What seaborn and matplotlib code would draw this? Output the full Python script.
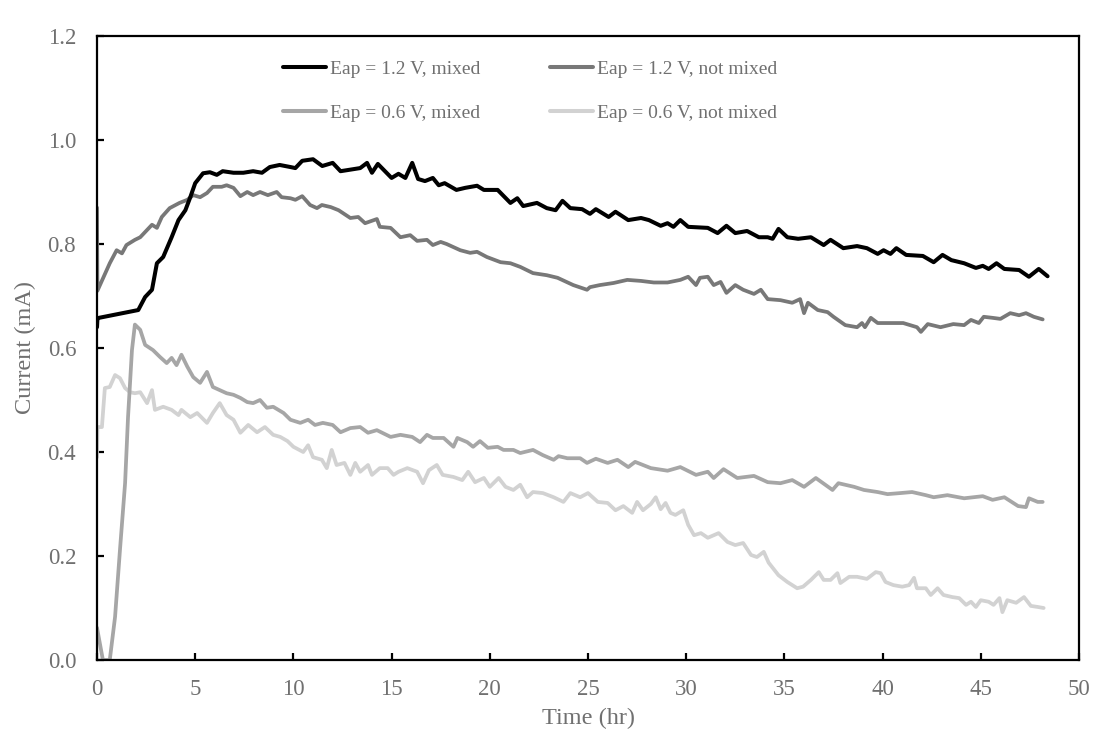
import numpy as np
import pandas as pd
import matplotlib
matplotlib.use("Agg")
import matplotlib.pyplot as plt
import seaborn as sns

# ---------------- data ----------------
labels = ["Eap = 1.2 V, mixed", "Eap = 1.2 V, not mixed",
          "Eap = 0.6 V, mixed", "Eap = 0.6 V, not mixed"]
colors = ["#000000", "#787878", "#a6a6a6", "#d2d2d2"]

x_12_mixed = [0, 0.02, 0.1, 2.1, 2.45, 2.8, 3.05, 3.37, 3.8, 4.15, 4.5, 4.75, 5.0, 5.4, 5.75, 6.1, 6.4, 6.95,
              7.45, 7.95, 8.4, 8.8, 9.3, 9.85, 10.1, 10.45, 11.0, 11.47, 12.0, 12.4, 13.4, 13.75, 14.0, 14.3,
              15.0, 15.35, 15.7, 16.05, 16.35, 16.7, 17.1, 17.4, 17.7, 18.3, 18.75, 19.35, 19.7, 20.4, 21.05,
              21.4, 21.7, 22.4, 22.9, 23.35, 23.7, 24.1, 24.7, 25.1, 25.4, 26.05, 26.4, 27.05, 27.7, 28.1,
              28.7, 29.05, 29.35, 29.7, 30.1, 31.1, 31.6, 32.05, 32.5, 33.1, 33.7, 34.15, 34.4, 34.7, 35.15,
              35.7, 36.35, 37.0, 37.35, 38.0, 38.7, 39.2, 39.75, 40.05, 40.4, 40.7, 41.2, 42.05, 42.6, 43.05,
              43.5, 44.15, 44.75, 45.1, 45.4, 45.8, 46.2, 46.95, 47.45, 47.95, 48.4]
y_12_mixed = [0.64, 0.655, 0.658, 0.673, 0.698, 0.712, 0.763, 0.775, 0.813, 0.846, 0.865, 0.89, 0.917, 0.936,
              0.938, 0.933, 0.94, 0.937, 0.937, 0.94, 0.937, 0.948, 0.952, 0.948, 0.946, 0.96, 0.963, 0.95,
              0.956, 0.94, 0.946, 0.956, 0.937, 0.954, 0.927, 0.935, 0.927, 0.956, 0.925, 0.921, 0.927, 0.913,
              0.917, 0.904, 0.908, 0.912, 0.904, 0.904, 0.879, 0.888, 0.873, 0.879, 0.869, 0.865, 0.883, 0.869,
              0.867, 0.858, 0.867, 0.852, 0.862, 0.846, 0.85, 0.846, 0.835, 0.84, 0.833, 0.846, 0.833, 0.831,
              0.821, 0.835, 0.821, 0.825, 0.813, 0.813, 0.81, 0.829, 0.813, 0.81, 0.813, 0.798, 0.808, 0.792,
              0.796, 0.792, 0.781, 0.788, 0.781, 0.792, 0.779, 0.777, 0.765, 0.779, 0.769, 0.763, 0.754, 0.758,
              0.752, 0.763, 0.752, 0.75, 0.737, 0.752, 0.738]

x_12_notmixed = [0, 0.02, 0.65, 1.0, 1.27, 1.5, 1.93, 2.2, 2.45, 2.8, 3.05, 3.3, 3.7, 4.2, 4.6, 4.9, 5.25, 5.6,
                 5.9, 6.35, 6.6, 6.95, 7.3, 7.65, 7.95, 8.3, 8.7, 9.15, 9.4, 9.85, 10.1, 10.45, 10.85, 11.2,
                 11.45, 11.9, 12.3, 12.9, 13.3, 13.65, 14.25, 14.4, 14.95, 15.45, 15.95, 16.3, 16.8, 17.1, 17.5,
                 17.8, 18.5, 19.0, 19.35, 19.85, 20.55, 21.05, 21.55, 22.2, 22.9, 23.45, 24.25, 24.95, 25.1,
                 25.6, 26.3, 27.0, 27.7, 28.35, 29.05, 29.7, 30.1, 30.5, 30.7, 31.1, 31.4, 31.75, 32.05, 32.5,
                 32.9, 33.45, 33.8, 34.15, 34.8, 35.4, 35.8, 36.0, 36.2, 36.7, 37.2, 37.5, 38.1, 38.7, 38.95,
                 39.1, 39.4, 39.75, 40.4, 41.05, 41.75, 41.95, 42.3, 42.95, 43.6, 44.15, 44.5, 44.9, 45.15,
                 45.6, 46.0, 46.5, 46.95, 47.3, 47.7, 48.15]
y_12_notmixed = [0.87, 0.71, 0.763, 0.788, 0.782, 0.798, 0.808, 0.813, 0.823, 0.837, 0.831, 0.852, 0.869, 0.879,
                 0.885, 0.894, 0.89, 0.898, 0.91, 0.91, 0.913, 0.908, 0.892, 0.9, 0.894, 0.9, 0.894, 0.9, 0.89,
                 0.888, 0.885, 0.892, 0.875, 0.869, 0.875, 0.871, 0.865, 0.85, 0.852, 0.84, 0.848, 0.833, 0.831,
                 0.813, 0.817, 0.806, 0.808, 0.798, 0.804, 0.8, 0.788, 0.783, 0.785, 0.775, 0.765, 0.763, 0.756,
                 0.744, 0.74, 0.735, 0.721, 0.712, 0.717, 0.721, 0.725, 0.731, 0.729, 0.726, 0.726, 0.731, 0.737,
                 0.721, 0.735, 0.737, 0.721, 0.727, 0.706, 0.721, 0.712, 0.704, 0.712, 0.694, 0.692, 0.687,
                 0.694, 0.667, 0.687, 0.673, 0.669, 0.66, 0.644, 0.64, 0.648, 0.64, 0.658, 0.648, 0.648, 0.648,
                 0.64, 0.631, 0.646, 0.64, 0.646, 0.644, 0.654, 0.648, 0.66, 0.658, 0.656, 0.667, 0.663, 0.667,
                 0.66, 0.655]

x_06_mixed = [0, 0.3, 0.65, 0.92, 1.17, 1.43, 1.58, 1.78, 1.93, 2.2, 2.45, 2.85, 3.2, 3.55, 3.8, 4.05, 4.3, 4.6,
              4.9, 5.25, 5.6, 5.9, 6.25, 6.6, 6.95, 7.3, 7.65, 7.95, 8.3, 8.65, 8.97, 9.5, 9.85, 10.35, 10.75,
              11.1, 11.5, 12.0, 12.4, 12.9, 13.4, 13.8, 14.25, 14.95, 15.45, 16.05, 16.45, 16.8, 17.1, 17.65,
              18.15, 18.35, 18.85, 19.15, 19.5, 19.9, 20.4, 20.7, 21.2, 21.55, 22.2, 22.7, 23.25, 23.5, 23.95,
              24.6, 24.95, 25.4, 26.0, 26.5, 27.05, 27.4, 28.2, 29.05, 29.7, 30.5, 31.1, 31.4, 31.9, 32.6, 33.45,
              34.15, 34.8, 35.4, 36.0, 36.6, 37.45, 37.75, 38.55, 39.05, 39.75, 40.25, 40.9, 41.5, 42.2, 42.6,
              43.3, 44.15, 45.1, 45.6, 46.2, 46.9, 47.3, 47.45, 47.9, 48.15]
y_06_mixed = [0.062, 0.0, 0.0, 0.083, 0.212, 0.34, 0.467, 0.596, 0.645, 0.635, 0.606, 0.596, 0.583, 0.571, 0.581,
              0.567, 0.587, 0.564, 0.544, 0.533, 0.554, 0.525, 0.519, 0.513, 0.51, 0.504, 0.496, 0.494, 0.5,
              0.485, 0.487, 0.475, 0.462, 0.456, 0.462, 0.452, 0.456, 0.452, 0.438, 0.446, 0.448, 0.437, 0.442,
              0.429, 0.433, 0.429, 0.419, 0.433, 0.427, 0.427, 0.41, 0.427, 0.419, 0.41, 0.421, 0.408, 0.41,
              0.404, 0.404, 0.398, 0.404, 0.394, 0.385, 0.392, 0.388, 0.388, 0.379, 0.387, 0.379, 0.385, 0.371,
              0.381, 0.369, 0.364, 0.371, 0.356, 0.362, 0.35, 0.367, 0.35, 0.354, 0.342, 0.34, 0.346, 0.333,
              0.35, 0.327, 0.34, 0.333, 0.327, 0.323, 0.319, 0.321, 0.323, 0.317, 0.313, 0.317, 0.311, 0.315,
              0.308, 0.313, 0.296, 0.294, 0.311, 0.304, 0.304]

x_06_notmixed = [0, 0.02, 0.25, 0.4, 0.65, 0.92, 1.17, 1.43, 1.68, 1.93, 2.2, 2.55, 2.8, 2.95, 3.37, 3.8, 4.15,
                 4.3, 4.75, 5.1, 5.6, 5.9, 6.25, 6.6, 6.95, 7.3, 7.7, 8.15, 8.55, 8.97, 9.33, 9.7, 10.0, 10.5,
                 10.75, 11.0, 11.45, 11.7, 11.95, 12.2, 12.6, 12.9, 13.15, 13.4, 13.8, 14.0, 14.4, 14.8, 15.1,
                 15.35, 15.8, 16.3, 16.6, 16.9, 17.3, 17.6, 18.15, 18.6, 18.9, 19.25, 19.7, 20.0, 20.45, 20.8,
                 21.2, 21.55, 21.9, 22.2, 22.7, 23.25, 23.75, 24.1, 24.6, 25.0, 25.5, 26.0, 26.4, 26.8, 27.25,
                 27.5, 27.8, 28.2, 28.45, 28.7, 28.95, 29.2, 29.45, 29.85, 30.1, 30.4, 30.75, 31.1, 31.4, 31.65,
                 32.1, 32.5, 32.9, 33.3, 33.6, 33.95, 34.2, 34.7, 35.15, 35.65, 35.95, 36.35, 36.75, 37.0, 37.35,
                 37.7, 37.85, 38.3, 38.7, 39.2, 39.65, 39.9, 40.15, 40.55, 41.0, 41.35, 41.6, 41.75, 42.2, 42.45,
                 42.8, 43.1, 43.55, 43.9, 44.25, 44.5, 44.75, 45.0, 45.4, 45.65, 45.95, 46.1, 46.35, 46.8, 47.2,
                 47.55, 47.9, 48.2]
y_06_notmixed = [0.39, 0.448, 0.448, 0.523, 0.525, 0.548, 0.542, 0.523, 0.515, 0.513, 0.515, 0.494, 0.519, 0.481,
                 0.487, 0.481, 0.471, 0.481, 0.467, 0.475, 0.456, 0.475, 0.494, 0.471, 0.462, 0.437, 0.452, 0.438,
                 0.448, 0.433, 0.429, 0.421, 0.41, 0.4, 0.413, 0.39, 0.385, 0.369, 0.404, 0.375, 0.379, 0.356,
                 0.379, 0.362, 0.375, 0.356, 0.369, 0.369, 0.356, 0.362, 0.369, 0.362, 0.34, 0.365, 0.375, 0.356,
                 0.352, 0.346, 0.362, 0.342, 0.35, 0.333, 0.35, 0.333, 0.327, 0.337, 0.313, 0.323, 0.321, 0.313,
                 0.304, 0.321, 0.313, 0.321, 0.304, 0.302, 0.288, 0.296, 0.283, 0.304, 0.288, 0.3, 0.313, 0.29,
                 0.302, 0.283, 0.279, 0.288, 0.26, 0.24, 0.244, 0.235, 0.24, 0.244, 0.227, 0.221, 0.225, 0.202,
                 0.198, 0.208, 0.187, 0.163, 0.15, 0.138, 0.141, 0.154, 0.169, 0.154, 0.154, 0.167, 0.148, 0.16,
                 0.16, 0.156, 0.169, 0.167, 0.15, 0.144, 0.141, 0.144, 0.158, 0.138, 0.138, 0.125, 0.138, 0.125,
                 0.121, 0.119, 0.106, 0.112, 0.102, 0.115, 0.112, 0.106, 0.119, 0.092, 0.115, 0.11, 0.121, 0.104,
                 0.102, 0.1]

x_ticks = [0, 5, 10, 15, 20, 25, 30, 35, 40, 45, 50]
y_ticks = [0.0, 0.2, 0.4, 0.6, 0.8, 1.0, 1.2]

# ---------------- build long frame ----------------
series = [(labels[0], x_12_mixed, y_12_mixed),
          (labels[1], x_12_notmixed, y_12_notmixed),
          (labels[2], x_06_mixed, y_06_mixed),
          (labels[3], x_06_notmixed, y_06_notmixed)]
frames = []
for name, xs, ys in series:
    frames.append(pd.DataFrame({"Time": xs, "Current": ys, "Series": name}))
df = pd.concat(frames, ignore_index=True)

# ---------------- style ----------------
sns.set_theme(style="white")
plt.rcParams["font.family"] = ["Liberation Serif", "DejaVu Serif"]
text_color = "#707070"

fig = plt.figure(figsize=(10.93, 7.39), dpi=100)
ax = fig.add_axes([97 / 1093, 1 - 660 / 739, (1079 - 97) / 1093, (660 - 36) / 739])

palette = dict(zip(labels, colors))
draw_order = [labels[3], labels[2], labels[1], labels[0]]
sns.lineplot(data=df, x="Time", y="Current", hue="Series", hue_order=draw_order,
             palette=palette, sort=False, estimator=None, linewidth=2.7, ax=ax)
for line in ax.get_lines():
    if line.get_color() in ("#000000", "k", (0.0, 0.0, 0.0, 1.0)):
        line.set_linewidth(2.9)

ax.set_xlim(0, 50)
ax.set_ylim(0, 1.2)
ax.set_xticks(x_ticks)
ax.set_yticks(y_ticks)
ax.set_xticklabels([str(t) for t in x_ticks])
ax.set_yticklabels([f"{t:.1f}" for t in y_ticks])

for s in ax.spines.values():
    s.set_visible(True)
    s.set_color("#000000")
    s.set_linewidth(1.6)

ax.tick_params(axis="both", which="major", direction="in", length=5, width=1.6,
               colors="#000000", labelcolor=text_color, labelsize=16.5)
ax.tick_params(axis="x", pad=14)
ax.tick_params(axis="y", pad=15)
ax.tick_params(top=False, right=False, left=True, bottom=True)

ax.set_xlabel("Time (hr)", fontsize=17.5, color=text_color, labelpad=5)
ax.set_ylabel("Current (mA)", fontsize=17.5, color=text_color, labelpad=8)

# legend: row-major like reference
handles, labs = ax.get_legend_handles_labels()
hmap = dict(zip(labs, handles))
order = [labels[0], labels[2], labels[1], labels[3]]
leg = ax.legend([hmap[l] for l in order], order, ncol=2, frameon=False,
                loc="upper left", bbox_to_anchor=(283 / 1093, 1 - 60 / 739),
                bbox_transform=fig.transFigure, fontsize=14,
                handlelength=2.2, handletextpad=0.22, columnspacing=3.6,
                labelspacing=1.36, borderpad=0, borderaxespad=0)
for t in leg.get_texts():
    t.set_color(text_color)
for h in leg.get_lines():
    h.set_linewidth(2.9)

fig.savefig("out.png", dpi=100)
